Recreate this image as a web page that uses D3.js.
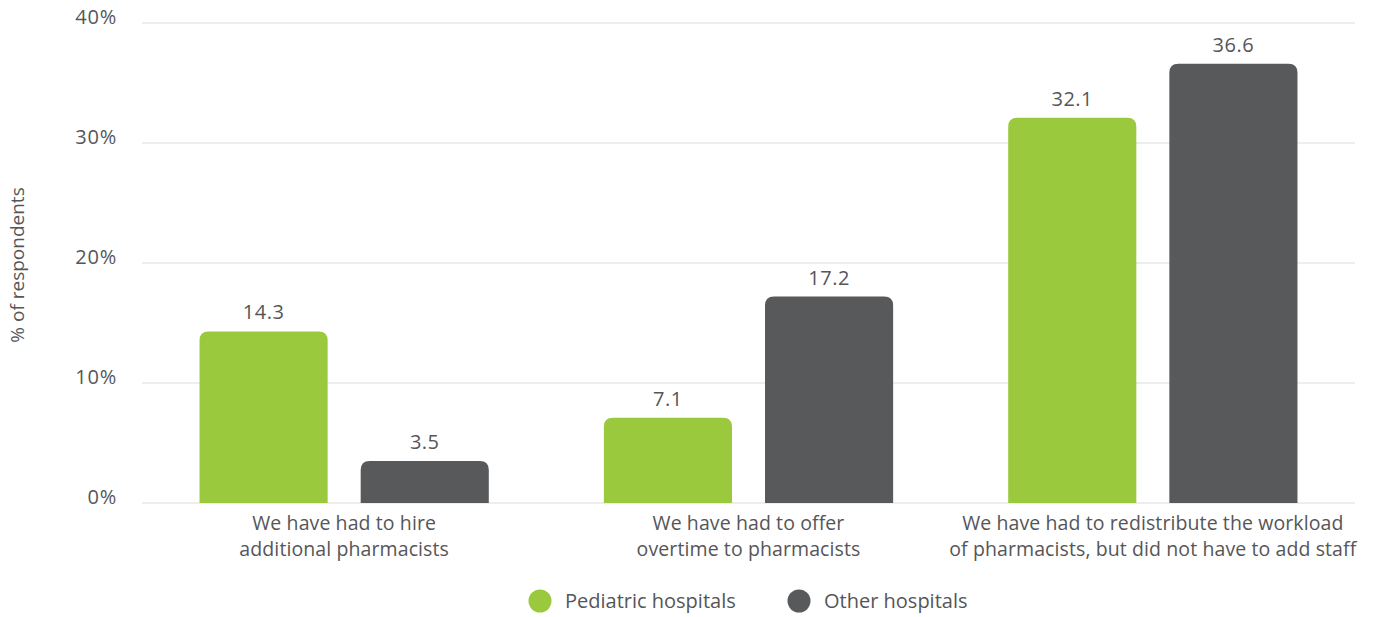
<!DOCTYPE html>
<html><head><meta charset="utf-8">
<script src="https://cdn.jsdelivr.net/npm/d3@7"></script>
<style>
body{margin:0;background:#fff;}
text{font-family:"Open Sans","Noto Sans",sans-serif;fill:#555658;}
</style></head>
<body>
<svg id="c" width="1375" height="617"></svg>
<script>
const categories = [
  ["We have had to hire", "additional pharmacists"],
  ["We have had to offer", "overtime to pharmacists"],
  ["We have had to redistribute the workload", "of pharmacists, but did not have to add staff"]
];
const seriesNames = ["Pediatric hospitals", "Other hospitals"];
const pediatric = [14.3, 7.1, 32.1];
const other = [3.5, 17.2, 36.6];
const yTicks = [0, 10, 20, 30, 40];
const colors = ["#9ac93d", "#58595b"];

const svg = d3.select("#c");
const L = 142, R = 1355, T = 23, B = 503;
const y = d3.scaleLinear().domain([0, 40]).range([B, T]);
const x0 = d3.scaleBand().domain(d3.range(categories.length)).range([L, R]).padding(0);
const x1 = d3.scaleBand().domain(d3.range(2)).range([0, x0.bandwidth()]).paddingInner(0.205).paddingOuter(0.357);

// grid
svg.append("g").selectAll("line").data(yTicks).join("line")
  .attr("x1", L).attr("x2", R).attr("y1", d => y(d)).attr("y2", d => y(d))
  .attr("stroke", "#dcdcdc").attr("stroke-width", 1);

// y tick labels
svg.append("g").selectAll("text").data(yTicks).join("text")
  .attr("x", 117).attr("y", d => y(d) + 1).attr("text-anchor", "end")
  .attr("font-size", 20).attr("letter-spacing", 0.8).text(d => d + "%");

// y title
svg.append("text").attr("transform", `translate(24,${265}) rotate(-90)`)
  .attr("text-anchor", "middle").attr("font-size", 19).text("% of respondents");

const data = categories.map((c, i) => [pediatric[i], other[i]]);
const r = 9;
function topRounded(x, yTop, w, h) {
  const rr = Math.min(r, h / 2, w / 2);
  return `M${x},${yTop + h}V${yTop + rr}Q${x},${yTop} ${x + rr},${yTop}H${x + w - rr}Q${x + w},${yTop} ${x + w},${yTop + rr}V${yTop + h}Z`;
}
const groups = svg.append("g").selectAll("g").data(data).join("g")
  .attr("transform", (d, i) => `translate(${x0(i)},0)`);
groups.selectAll("path").data(d => d).join("path")
  .attr("d", (v, j) => topRounded(x1(j), y(v), x1.bandwidth(), B - y(v)))
  .attr("fill", (v, j) => colors[j]);
groups.selectAll("text.v").data(d => d).join("text").attr("class", "v")
  .attr("x", (v, j) => x1(j) + x1.bandwidth() / 2).attr("y", v => y(v) - 12)
  .attr("text-anchor", "middle").attr("font-size", 20).attr("letter-spacing", 0.5).text(v => v.toFixed(1));

// category labels (one text element per line)
const lineData = [];
categories.forEach((c, i) => c.forEach((t, k) => lineData.push({i, k, t})));
svg.append("g").selectAll("text").data(lineData).join("text")
  .attr("x", d => x0(d.i) + x0.bandwidth() / 2)
  .attr("y", d => 530 + d.k * 26)
  .attr("text-anchor", "middle").attr("font-size", 19.5).attr("letter-spacing", 0.1)
  .text(d => d.t);

// legend
const legX = [540, 799];
const lg = svg.append("g").selectAll("g").data(seriesNames).join("g")
  .attr("transform", (d, i) => `translate(${legX[i]},601)`);
lg.append("circle").attr("r", 11.5).attr("fill", (d, i) => colors[i]);
lg.append("text").attr("x", 25).attr("y", 7).attr("font-size", 20).text(d => d);
</script>
</body></html>
